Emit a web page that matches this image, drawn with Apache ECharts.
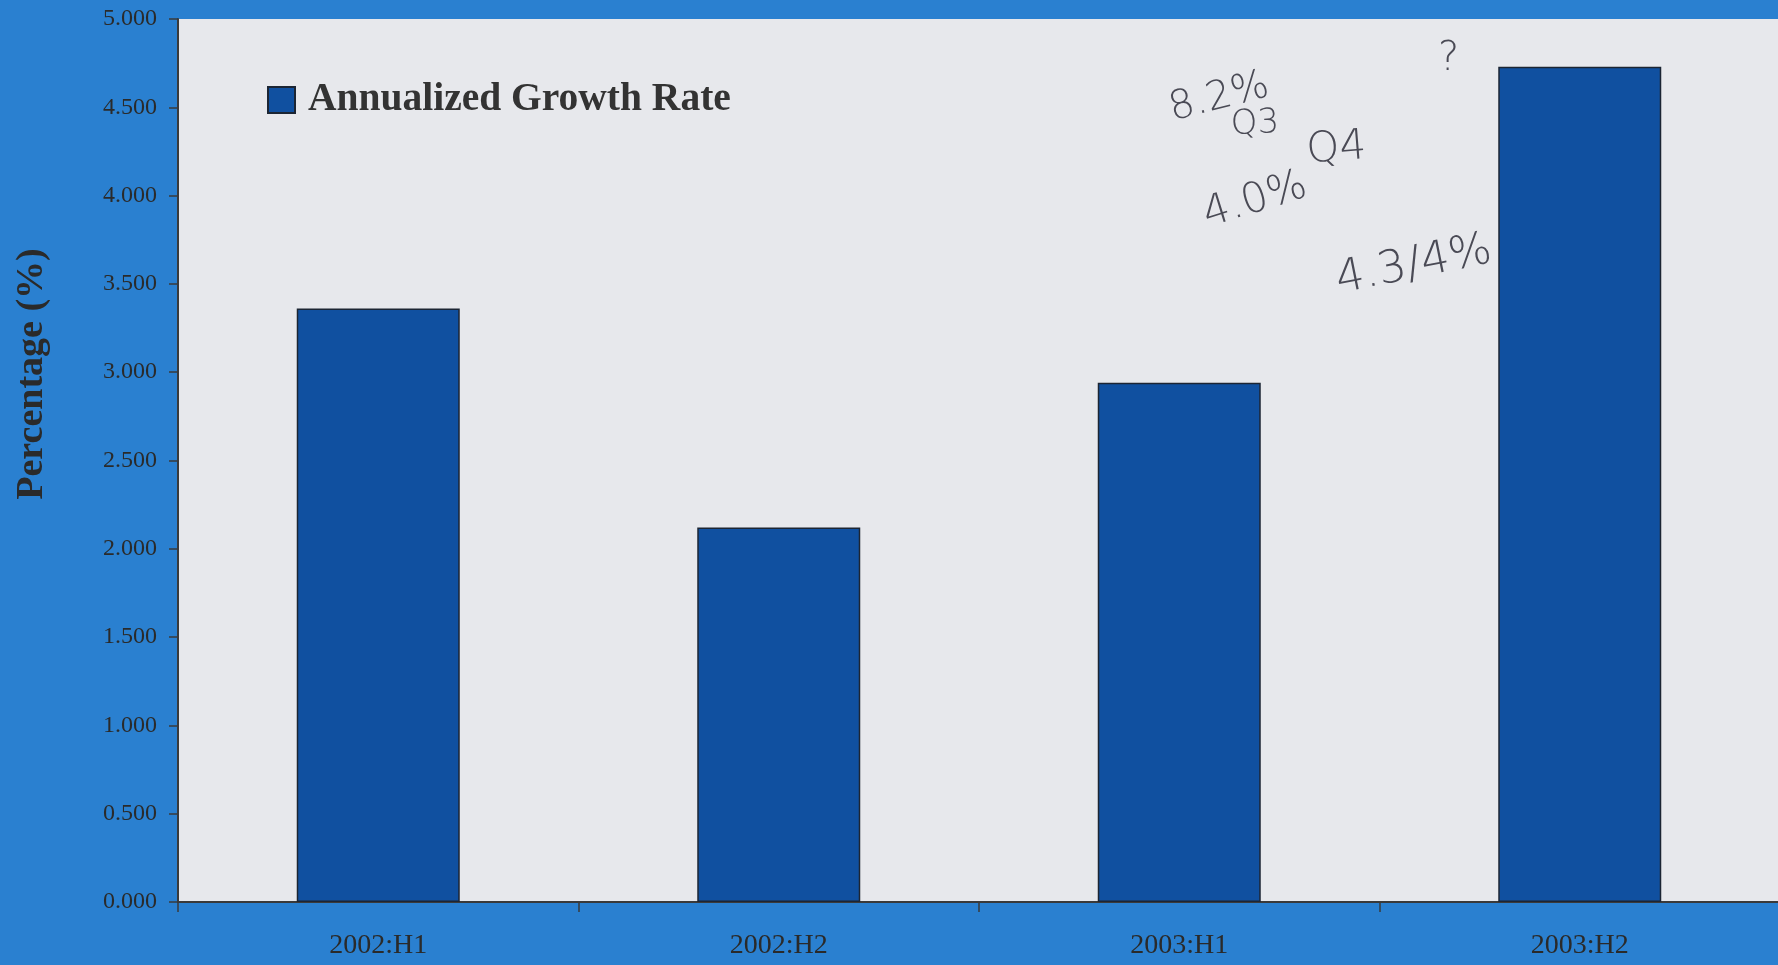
<!DOCTYPE html>
<html>
<head>
<meta charset="utf-8">
<script src="https://cdn.jsdelivr.net/npm/echarts@6/dist/echarts.min.js"></script>
<style>
html,body{margin:0;padding:0;background:#2a80d0;}
#chart{width:1778px;height:965px;}
</style>
</head>
<body>
<div id="chart"></div>
<script>
const categories = ['2002:H1', '2002:H2', '2003:H1', '2003:H2'];
const growthRate = [3.36, 2.12, 2.94, 4.73];
const seriesName = 'Annualized Growth Rate';
const yAxisTitle = 'Percentage (%)';
const notes = ['8.2%', 'Q3', '4.0%', 'Q4', '4.3/4%', '?'];

const chart = echarts.init(document.getElementById('chart'));
const serif = '"Liberation Serif", "DejaVu Serif", serif';
const hand = '"DejaVu Sans", sans-serif';
const noteStyle = {fill: '#4a4a55', fontFamily: hand, fontWeight: 200};

chart.setOption({
  backgroundColor: '#2a80d0',
  animation: false,
  grid: {
    left: 178, top: 19, width: 1602, height: 883,
    outerBoundsMode: 'none',
    containLabel: false,
    show: true, backgroundColor: '#e7e8ec', borderWidth: 0
  },
  legend: {
    left: 262, top: 75,
    itemWidth: 27, itemHeight: 26,
    icon: 'rect',
    data: [seriesName],
    textStyle: {
      fontFamily: serif, fontWeight: 'bold', fontSize: 39.5, color: '#333333',
      padding: [0, 0, 0, 8]
    }
  },
  xAxis: {
    type: 'category',
    data: categories,
    axisLine: {lineStyle: {color: '#3a3a3a', width: 2}},
    axisTick: {show: true, length: 10, lineStyle: {color: '#3a3a3a', width: 1.5}},
    axisLabel: {fontFamily: serif, fontSize: 28, color: '#2a2a2a', margin: 30}
  },
  yAxis: {
    type: 'value',
    min: 0, max: 5, interval: 0.5,
    axisLine: {show: true, lineStyle: {color: '#3a3a3a', width: 2}},
    axisTick: {show: true, length: 9, lineStyle: {color: '#3a3a3a', width: 1.5}},
    splitLine: {show: false},
    axisLabel: {
      fontFamily: serif, fontSize: 24, color: '#2a2a2a', margin: 21,
      formatter: v => v.toFixed(3)
    }
  },
  series: [{
    name: seriesName,
    type: 'bar',
    data: growthRate,
    barWidth: 163,
    itemStyle: {color: '#1050a0', borderColor: '#1c2533', borderWidth: 1.5}
  }],
  graphic: [
    {type: 'text', x: 32, y: 374, rotation: Math.PI / 2,
     style: {text: yAxisTitle, fontFamily: serif, fontWeight: 'bold', fontSize: 38, fill: '#2a2a2a',
             align: 'center', verticalAlign: 'middle'}},
    {type: 'text', left: 1165, top: 66, rotation: 0.25, style: Object.assign({text: notes[0], fontSize: 40}, noteStyle)},
    {type: 'text', left: 1230, top: 106, rotation: 0.05, style: Object.assign({text: notes[1], fontSize: 34}, noteStyle)},
    {type: 'text', left: 1198, top: 165, rotation: 0.3, style: Object.assign({text: notes[2], fontSize: 42}, noteStyle)},
    {type: 'text', left: 1305, top: 126, rotation: 0.08, style: Object.assign({text: notes[3], fontSize: 42}, noteStyle)},
    {type: 'text', left: 1332, top: 228, rotation: 0.2, style: Object.assign({text: notes[4], fontSize: 45}, noteStyle)},
    {type: 'text', left: 1438, top: 40, style: Object.assign({text: notes[5], fontSize: 40}, noteStyle)}
  ]
});
</script>
</body>
</html>
